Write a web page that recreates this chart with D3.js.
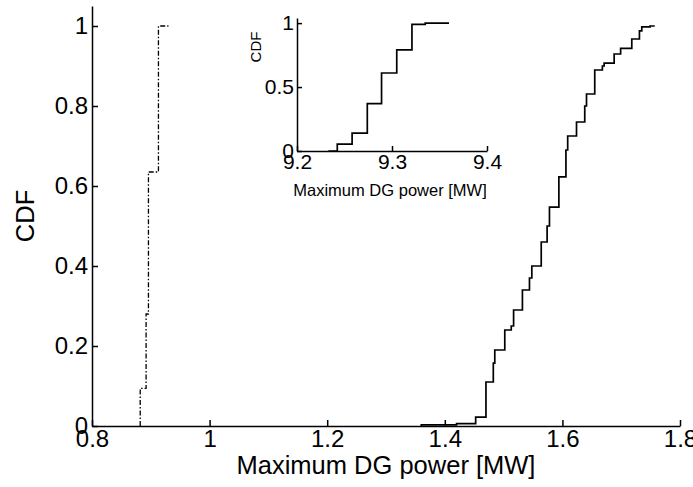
<!DOCTYPE html>
<html>
<head>
<meta charset="utf-8">
<script src="https://cdn.jsdelivr.net/npm/d3@7"></script>
<style>
  body { margin: 0; background: #fff; }
  svg { font-family: "Liberation Sans", Arial, sans-serif; }
  .axis path, .axis line { stroke: #000; stroke-width: 1.5; }
  .axis text { fill: #000; }
</style>
</head>
<body>
<script>
// solid curve (main), empirical CDF steps: [power, cdf]
var solidX = [1.36, 1.42, 1.4525, 1.470, 1.4825, 1.485, 1.502, 1.513, 1.517, 1.532, 1.544, 1.548, 1.564, 1.574, 1.578,
              1.594, 1.606, 1.609, 1.624, 1.638, 1.641, 1.655, 1.668, 1.671, 1.688, 1.699, 1.718, 1.731, 1.735, 1.749];
var solidY = [0.003, 0.006, 0.022, 0.11, 0.157, 0.19, 0.24, 0.25, 0.29, 0.34, 0.37, 0.40, 0.46, 0.50, 0.547,
              0.623, 0.69, 0.725, 0.76, 0.80, 0.83, 0.89, 0.90, 0.907, 0.93, 0.944, 0.9675, 0.988, 0.998, 1.0];
var solidStart = 1.36, solidEnd = 1.757;

// dash-dot curve (main)
var dashX = [0.882, 0.892, 0.896, 0.913];
var dashY = [0.094, 0.28, 0.635, 1.0];
var dashEnd = 0.930;

// inset curve
var insetX = [9.2424, 9.258, 9.274, 9.289, 9.305, 9.321, 9.335];
var insetY = [0.053, 0.14, 0.37, 0.61, 0.79, 0.99, 1.0];
var insetStart = 9.233, insetEnd = 9.360;

var mainXTicks = [0.8, 1, 1.2, 1.4, 1.6, 1.8];
var mainYTicks = [0, 0.2, 0.4, 0.6, 0.8, 1];
var insetXTicks = [9.2, 9.3, 9.4];
var insetYTicks = [0, 0.5, 1];

var W = 693, H = 487;
var svg = d3.select("body").append("svg").attr("width", W).attr("height", H);

function stepPoints(xs, ys, x0, x1) {
    var pts = [[x0, 0]];
    var prev = 0;
    for (var i = 0; i < xs.length; i++) {
        pts.push([xs[i], prev]);
        pts.push([xs[i], ys[i]]);
        prev = ys[i];
    }
    pts.push([x1, prev]);
    return pts;
}

// ---- main axes
var xscale = d3.scaleLinear().domain([0.8, 1.8]).range([92, 680]);
var yscale = d3.scaleLinear().domain([0, 1.05]).range([426, 6]);

var fmt = function (d) { return d3.format("")(+d.toFixed(2)); };

svg.append("g").attr("class", "axis")
    .attr("transform", "translate(0," + yscale(0) + ")")
    .call(d3.axisBottom(xscale).tickValues(mainXTicks).tickSizeInner(-6).tickSizeOuter(0).tickPadding(4).tickFormat(fmt))
    .call(function (g) { g.selectAll("text").attr("font-size", 24).attr("dy", "0.71em"); });

svg.append("g").attr("class", "axis")
    .attr("transform", "translate(" + xscale(0.8) + ",0)")
    .call(d3.axisLeft(yscale).tickValues(mainYTicks).tickSizeInner(-6).tickSizeOuter(0).tickPadding(4).tickFormat(fmt))
    .call(function (g) { g.selectAll("text").attr("font-size", 24); });

var line = d3.line()
    .x(function (d) { return xscale(d[0]); })
    .y(function (d) { return yscale(d[1]); });

svg.append("path")
    .attr("d", line(stepPoints(solidX, solidY, solidStart, solidEnd)))
    .attr("fill", "none").attr("stroke", "#000").attr("stroke-width", 1.7);

svg.append("path")
    .attr("d", line(stepPoints(dashX, dashY, dashX[0], dashEnd).slice(1)))
    .attr("fill", "none").attr("stroke", "#000").attr("stroke-width", 1.3)
    .attr("stroke-dasharray", "5,2,1.5,2");

svg.append("text")
    .attr("x", 386).attr("y", 474)
    .attr("text-anchor", "middle").attr("font-size", 25.5)
    .text("Maximum DG power [MW]");

svg.append("text")
    .attr("transform", "translate(34,216) rotate(-90)")
    .attr("text-anchor", "middle").attr("font-size", 25.5)
    .text("CDF");

// ---- inset
var ix = d3.scaleLinear().domain([9.2, 9.4]).range([297, 487]);
var iy = d3.scaleLinear().domain([0, 1.04]).range([151, 18]);

svg.append("g").attr("class", "axis")
    .attr("transform", "translate(0," + iy(0) + ")")
    .call(d3.axisBottom(ix).tickValues(insetXTicks).tickSizeInner(-5).tickSizeOuter(0).tickPadding(3).tickFormat(fmt))
    .call(function (g) { g.selectAll("text").attr("font-size", 21).attr("dy", "0.71em"); });

svg.append("g").attr("class", "axis")
    .attr("transform", "translate(" + ix(9.2) + ",0)")
    .call(d3.axisLeft(iy).tickValues(insetYTicks).tickSizeInner(-5).tickSizeOuter(0).tickPadding(3).tickFormat(fmt))
    .call(function (g) { g.selectAll("text").attr("font-size", 21); });

var iline = d3.line()
    .x(function (d) { return ix(d[0]); })
    .y(function (d) { return iy(d[1]); });

svg.append("path")
    .attr("d", iline(stepPoints(insetX, insetY, insetStart, insetEnd)))
    .attr("fill", "none").attr("stroke", "#000").attr("stroke-width", 1.7);

svg.append("text")
    .attr("x", 390).attr("y", 196)
    .attr("text-anchor", "middle").attr("font-size", 16.5)
    .text("Maximum DG power [MW]");

svg.append("text")
    .attr("transform", "translate(261,47) rotate(-90)")
    .attr("text-anchor", "middle").attr("font-size", 15)
    .text("CDF");
</script>
</body>
</html>
